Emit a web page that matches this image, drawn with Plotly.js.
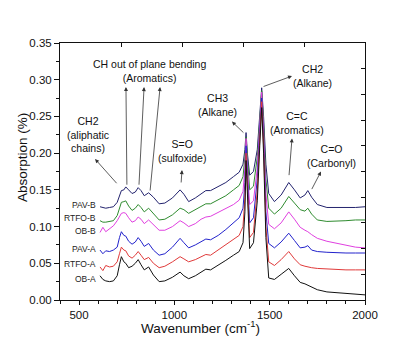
<!DOCTYPE html>
<html>
<head>
<meta charset="utf-8">
<script src="https://cdn.plot.ly/plotly-3.0.1.min.js"></script>
<style>html,body{margin:0;padding:0;background:#fff;}#chart{width:397px;height:345px;}</style>
</head>
<body>
<div id="chart"></div>
<script>
// Wavenumber grid (cm-1)
const wavenumber = [610,625,640,660,680,700,712,722,735,745,760,778,795,810,825,842,865,890,920,950,990,1030,1050,1075,1110,1140,1165,1190,1230,1270,1310,1340,1360,1370,1376,1383,1395,1415,1435,1448,1458,1468,1480,1495,1525,1560,1600,1630,1660,1685,1700,1720,1750,1800,1850,1900,1950,2000];

const pavB = [.127,.126,.125,.126,.127,.133,.143,.149,.150,.154,.150,.145,.147,.153,.149,.142,.146,.140,.131,.132,.139,.150,.144,.134,.139,.145,.149,.149,.154,.160,.168,.174,.185,.205,.228,.200,.170,.175,.205,.250,.289,.250,.185,.145,.134,.143,.160,.150,.139,.143,.149,.140,.130,.126,.126,.125,.126,.127];
const rtfoB = [.108,.106,.106,.107,.108,.115,.125,.133,.134,.135,.128,.122,.125,.130,.126,.120,.125,.117,.109,.110,.116,.125,.123,.118,.123,.128,.131,.131,.136,.142,.150,.156,.168,.195,.222,.190,.150,.155,.195,.245,.285,.240,.165,.125,.117,.125,.141,.132,.123,.121,.125,.117,.109,.107,.107,.108,.109,.109];
const obB = [.092,.099,.093,.097,.101,.108,.113,.118,.119,.118,.112,.106,.108,.113,.110,.104,.109,.102,.095,.095,.100,.108,.105,.100,.104,.110,.113,.114,.119,.124,.130,.136,.148,.180,.220,.180,.130,.135,.180,.240,.283,.230,.145,.103,.097,.105,.120,.110,.099,.095,.093,.089,.084,.080,.077,.074,.072,.071];
const pavA = [.068,.063,.067,.066,.068,.072,.085,.093,.088,.087,.080,.076,.079,.085,.080,.073,.077,.068,.061,.063,.072,.084,.078,.071,.075,.079,.083,.082,.088,.096,.105,.112,.125,.160,.210,.165,.105,.112,.165,.230,.275,.220,.120,.077,.071,.079,.091,.081,.071,.072,.074,.068,.066,.065,.064,.064,.064,.064];
const rtfoA = [.045,.040,.047,.045,.046,.052,.063,.072,.068,.067,.060,.057,.061,.066,.061,.055,.058,.050,.044,.046,.052,.059,.056,.052,.055,.059,.062,.061,.068,.075,.082,.088,.100,.140,.200,.150,.085,.092,.150,.220,.270,.210,.100,.052,.047,.055,.066,.056,.048,.046,.045,.044,.043,.042,.042,.041,.041,.041];
const obA = [.033,.028,.026,.025,.026,.033,.048,.059,.052,.050,.044,.046,.050,.055,.048,.041,.045,.034,.025,.026,.031,.038,.033,.029,.033,.038,.042,.041,.047,.054,.061,.066,.078,.120,.190,.135,.070,.078,.135,.210,.262,.200,.085,.030,.028,.035,.043,.033,.024,.022,.020,.017,.014,.011,.010,.009,.008,.007];

const seriesNames = ["PAV-B","RTFO-B","OB-B","PAV-A","RTFO-A","OB-A"];
const seriesData = [pavB, rtfoB, obB, pavA, rtfoA, obA];
const seriesColors = ["#23236e","#2e8b2e","#e040e0","#2222cc","#e03a3a","#111111"];
// vertical placement of the series name labels (absorption units)
const seriesLabelY = [0.130, 0.112, 0.094, 0.069, 0.049, 0.029];

const yTickVals = [0,0.05,0.10,0.15,0.20,0.25,0.30,0.35];
const yTickText = ["0.00","0.05","0.10","0.15","0.20","0.25","0.30","0.35"];
const xTickVals = [500,1000,1500,2000];

// band labels: text, centre (wavenumber, absorption)
const bandLabels = [
  {text:"CH2<br>(aliphatic<br>chains)", x:547, y:0.225},
  {text:"CH out of plane bending<br>(Aromatics)", x:872, y:0.312},
  {text:"S=O<br>(sulfoxide)", x:1040, y:0.203},
  {text:"CH3<br>(Alkane)", x:1224, y:0.266},
  {text:"CH2<br>(Alkane)", x:1722, y:0.305},
  {text:"C=C<br>(Aromatics)", x:1643, y:0.241},
  {text:"C=O<br>(Carbonyl)", x:1822, y:0.196}
];
// arrows: head (x,y) and tail (ax,ay)
const arrows = [
  [584,0.192,704,0.157],
  [746,0.290,751,0.155],
  [841,0.290,814,0.155],
  [925,0.290,872,0.147],
  [1040,0.177,1035,0.158],
  [1302,0.243,1370,0.226],
  [1617,0.305,1460,0.290],
  [1617,0.220,1601,0.168],
  [1769,0.175,1717,0.149]
];

const FONT = "Liberation Sans, Arial, sans-serif";

const traces = seriesData.map((d,i)=>({
  x: wavenumber, y: d, type:'scatter', mode:'lines', name: seriesNames[i],
  line:{color: seriesColors[i], width:1}, hoverinfo:'skip'
}));
// dummy trace for mirror axes
traces.push({x:[400],y:[0],xaxis:'x2',yaxis:'y2',mode:'markers',marker:{opacity:0},showlegend:false,hoverinfo:'skip'});

const annotations = [];
seriesNames.forEach((n,i)=>{
  annotations.push({x:597, y:seriesLabelY[i], xref:'x', yref:'y', text:n, showarrow:false,
    xanchor:'right', yanchor:'middle', font:{family:FONT,size:8.5,color:'#222'}});
});
bandLabels.forEach(b=>{
  annotations.push({x:b.x, y:b.y, xref:'x', yref:'y', text:b.text, showarrow:false,
    xanchor:'center', yanchor:'middle', align:'center', font:{family:FONT,size:10.5,color:'#111'}});
});
arrows.forEach(a=>{
  annotations.push({x:a[0], y:a[1], ax:a[2], ay:a[3], xref:'x', yref:'y', axref:'x', ayref:'y',
    text:'', showarrow:true, arrowhead:2, arrowsize:1, arrowwidth:0.8, arrowcolor:'#333', standoff:0, startstandoff:0});
});
annotations.push({xref:'paper', yref:'paper', x:-0.125, y:0.556, text:'Absorption (%)', textangle:-90,
  showarrow:false, xanchor:'center', yanchor:'middle', font:{family:FONT,size:13.5,color:'#111'}});
annotations.push({xref:'paper', yref:'paper', x:0.462, y:-0.105, text:'Wavenumber (cm<sup>-1</sup>)',
  showarrow:false, xanchor:'center', yanchor:'middle', font:{family:FONT,size:13.5,color:'#111'}});

const layout = {
  width:397, height:345,
  margin:{l:60, r:32, t:43, b:45},
  paper_bgcolor:'#fff', plot_bgcolor:'#fff',
  showlegend:false,
  xaxis:{range:[400,2000], tickvals:xTickVals, ticktext:xTickVals.map(String), ticks:'outside', ticklen:4, tickwidth:1,
    tickcolor:'#111', showline:true, linecolor:'#111', linewidth:1, showgrid:false, zeroline:false,
    minor:{dtick:100, tick0:0, ticks:'outside', ticklen:3, tickcolor:'#111', showgrid:false},
    ticklabelstandoff:0,
    tickfont:{family:FONT,size:11.5,color:'#111'}},
  yaxis:{range:[0,0.35], tickvals:yTickVals, ticktext:yTickText, ticks:'outside', ticklen:5, tickwidth:1,
    tickcolor:'#111', showline:true, linecolor:'#111', linewidth:1, showgrid:false, zeroline:false,
    minor:{dtick:0.025, tick0:0, ticks:'outside', ticklen:3, tickcolor:'#111', showgrid:false},
    tickfont:{family:FONT,size:11.5,color:'#111'}},
  xaxis2:{overlaying:'x', side:'top', range:[400,2000], tick0:400, dtick:320, ticks:'inside', ticklen:4,
    tickcolor:'#111', showticklabels:false, showline:true, linecolor:'#111', linewidth:1, showgrid:false, zeroline:false},
  yaxis2:{overlaying:'y', side:'right', range:[0,0.35], tick0:0, dtick:0.035, ticks:'inside', ticklen:4,
    tickcolor:'#111', showticklabels:false, showline:true, linecolor:'#111', linewidth:1, showgrid:false, zeroline:false},
  annotations: annotations
};

Plotly.newPlot('chart', traces, layout, {displayModeBar:false, staticPlot:true});
</script>
</body>
</html>
